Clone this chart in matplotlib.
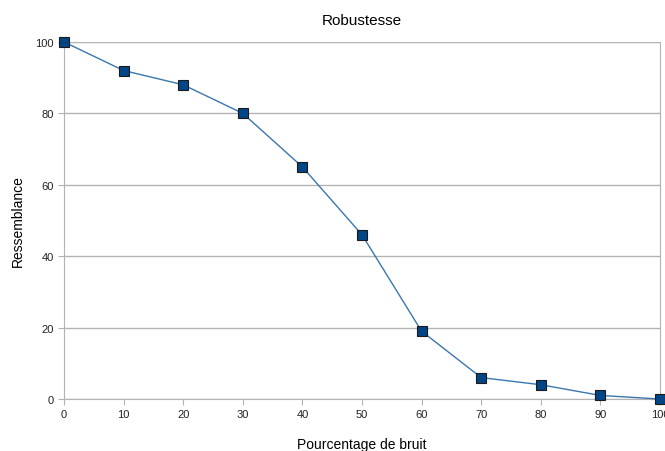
import matplotlib
matplotlib.use('Agg')
import matplotlib.pyplot as plt

matplotlib.rcParams.update({'font.family': 'Liberation Sans', 'font.size': 8})

bruit = [0, 10, 20, 30, 40, 50, 60, 70, 80, 90, 100]
ressemblance = [100, 92, 88, 80, 65, 46, 19, 6, 4, 1, 0]

fig = plt.figure(figsize=(6.65, 4.52), dpi=100)
ax = fig.add_axes([0.0962, 0.115, 0.8963, 0.79])

ax.plot(bruit, ressemblance, color='#3a76b0', linewidth=1, marker='s',
        markersize=7.5, markerfacecolor='#004586', markeredgecolor='#1a1a1a',
        markeredgewidth=0.8, clip_on=False, zorder=3)

ax.set_xlim(0, 100)
ax.set_ylim(0, 100)
ax.set_xticks(range(0, 101, 10))
ax.set_yticks(range(0, 101, 20))
ax.grid(axis='y', color='#b3b3b3', linewidth=1)
for s in ['left', 'right', 'bottom']:
    ax.spines[s].set_color('#b3b3b3')
ax.spines['top'].set_visible(False)
ax.tick_params(colors='#b3b3b3', labelcolor='#222222', length=4, labelsize=8)

ax.set_title('Robustesse', fontsize=11, pad=13)
ax.set_xlabel('Pourcentage de bruit', fontsize=10, labelpad=13)
ax.set_ylabel('Ressemblance', fontsize=10, labelpad=7)

fig.savefig('out.png', dpi=100)
